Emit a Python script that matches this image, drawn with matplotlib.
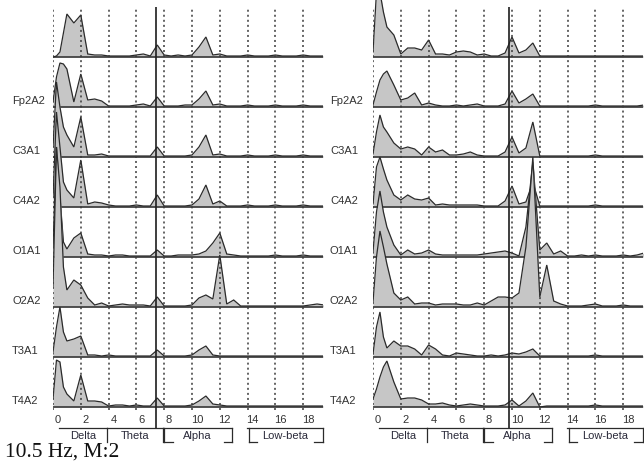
import matplotlib
matplotlib.use('Agg')
import matplotlib.pyplot as plt
import numpy as np

# ---------------- data ----------------
freqs = [0, 0.25, 0.5, 0.75, 1.0, 1.5, 2.0, 2.5, 3.0, 3.5, 4.0, 4.5, 5.0, 5.5,
         6.0, 6.5, 7.0, 7.5, 8.0, 8.5, 9.0, 9.5, 10.0, 10.5, 11.0, 11.5, 12.0,
         12.5, 13.0, 13.5, 14.0, 14.5, 15.0, 15.5, 16.0, 16.5, 17.0, 17.5, 18.0,
         18.5, 19.0, 19.5]

channels = ['', 'Fp2A2', 'C3A1', 'C4A2', 'O1A1', 'O2A2', 'T3A1', 'T4A2']

# left panel spectra (relative power)
left_top   = [0, 1, 5, 24, 43, 34, 42, 3, 2, 2, 1, 1, 1, 1, 2, 3, 1, 12, 2, 1, 2, 1, 2, 10, 20, 2, 3, 1, 1, 1, 2, 1, 1, 1, 2, 1, 1, 1, 2, 1, 1, 1]
left_fp2a2 = [5, 30, 44, 43, 38, 5, 33, 7, 8, 6, 1, 1, 1, 1, 2, 3, 1, 10, 1, 1, 1, 2, 2, 8, 16, 2, 3, 1, 1, 1, 2, 1, 1, 1, 2, 1, 1, 1, 2, 1, 1, 1]
left_c3a1  = [10, 75, 50, 30, 22, 10, 40, 2, 2, 3, 1, 1, 1, 1, 1, 1, 1, 10, 1, 1, 1, 1, 2, 10, 22, 2, 3, 1, 1, 1, 2, 1, 1, 1, 2, 1, 1, 1, 2, 1, 1, 1]
left_c4a2  = [10, 95, 60, 25, 17, 9, 47, 3, 5, 4, 2, 1, 1, 1, 2, 1, 1, 12, 1, 1, 1, 1, 2, 8, 22, 3, 6, 1, 1, 1, 2, 1, 1, 1, 2, 1, 1, 1, 2, 1, 1, 1]
left_o1a1  = [10, 110, 60, 15, 8, 19, 24, 3, 2, 2, 1, 2, 2, 1, 1, 1, 1, 7, 1, 1, 2, 2, 2, 3, 6, 14, 24, 3, 2, 1, 1, 1, 1, 1, 2, 1, 1, 1, 2, 1, 1, 1]
left_o2a2  = [20, 160, 120, 40, 17, 27, 22, 9, 2, 4, 1, 2, 3, 2, 2, 2, 1, 10, 1, 1, 1, 1, 2, 9, 12, 8, 52, 3, 7, 1, 1, 1, 1, 1, 1, 1, 1, 1, 1, 2, 3, 2]
left_t3a1  = [5, 30, 50, 25, 16, 18, 21, 2, 2, 1, 2, 1, 1, 1, 1, 1, 1, 7, 1, 1, 1, 1, 2, 7, 11, 2, 1, 1, 1, 1, 1, 1, 1, 1, 1, 1, 1, 1, 1, 1, 1, 1]
left_t4a2  = [8, 47, 45, 20, 13, 6, 32, 6, 6, 5, 1, 2, 2, 1, 2, 1, 1, 9, 1, 1, 1, 1, 2, 6, 11, 3, 2, 1, 1, 1, 1, 1, 1, 1, 1, 1, 1, 1, 1, 1, 1, 1]

# right panel spectra
right_top   = [5, 65, 65, 45, 30, 22, 3, 9, 9, 7, 17, 3, 3, 2, 5, 6, 5, 2, 3, 1, 1, 4, 20, 4, 7, 14, 1, 1, 1, 1, 1, 1, 1, 1, 1, 1, 1, 1, 1, 1, 1, 1]
right_fp2a2 = [2, 15, 27, 33, 36, 22, 7, 9, 14, 2, 4, 2, 1, 1, 2, 1, 2, 3, 1, 1, 1, 3, 16, 4, 8, 13, 1, 1, 1, 1, 1, 1, 1, 1, 2, 1, 1, 1, 1, 1, 1, 2]
right_c3a1  = [3, 25, 42, 30, 25, 14, 8, 10, 8, 2, 10, 5, 7, 2, 2, 3, 5, 2, 1, 1, 1, 5, 20, 4, 9, 35, 1, 1, 1, 1, 1, 1, 1, 1, 2, 1, 1, 1, 1, 1, 1, 1]
right_c4a2  = [3, 40, 50, 38, 27, 12, 7, 12, 8, 7, 9, 2, 3, 2, 2, 2, 2, 2, 1, 1, 1, 6, 21, 3, 5, 25, 1, 1, 1, 1, 1, 1, 1, 1, 2, 1, 1, 1, 1, 1, 1, 1]
right_o1a1  = [5, 45, 66, 45, 30, 12, 2, 7, 3, 4, 7, 3, 2, 2, 2, 2, 2, 2, 3, 4, 5, 6, 4, 1, 30, 95, 7, 14, 3, 6, 1, 1, 2, 1, 2, 1, 1, 1, 2, 1, 2, 4]
right_o2a2  = [5, 50, 76, 60, 43, 14, 7, 10, 3, 4, 4, 2, 3, 3, 3, 2, 2, 4, 2, 6, 10, 10, 9, 14, 60, 150, 10, 42, 6, 3, 1, 1, 1, 2, 3, 1, 1, 1, 2, 1, 1, 1]
right_t3a1  = [3, 30, 45, 20, 9, 16, 11, 11, 8, 2, 12, 8, 2, 1, 4, 3, 2, 1, 1, 2, 1, 2, 4, 3, 5, 8, 1, 1, 1, 1, 1, 1, 1, 1, 2, 1, 1, 1, 1, 1, 1, 1]
right_t4a2  = [8, 18, 30, 40, 46, 25, 8, 9, 9, 7, 3, 3, 4, 2, 1, 2, 3, 2, 1, 1, 1, 2, 7, 1, 6, 14, 0, 1, 1, 1, 1, 1, 1, 1, 2, 1, 1, 1, 1, 1, 1, 1]

left_spectra = [left_top, left_fp2a2, left_c3a1, left_c4a2, left_o1a1, left_o2a2, left_t3a1, left_t4a2]
right_spectra = [right_top, right_fp2a2, right_c3a1, right_c4a2, right_o1a1, right_o2a2, right_t3a1, right_t4a2]

grid_ticks = [0, 2, 4, 6, 8, 10, 12, 14, 16, 18]
cursor_left = 7.4
cursor_right = 9.8

band_names = ['Delta', 'Theta', 'Alpha', 'Low-beta']
band_lo = [0.4, 3.9, 7.9, 13.95]
band_hi = [3.9, 7.9, 12.9, 19.4]

caption = '10.5 Hz, M:2'

# ---------------- style / layout ----------------
W, H = 644, 466
PX_HZ = 13.9
XMAX = 19.4
ROW_PX = 50.0
TOP = 1.14          # data y at figure top (row 0 baseline at 57 px)
FILL = '#c6c6c6'
LINE = '#2b2b2b'
GRID = '#3a3a3a'
SANS = ['Liberation Sans', 'DejaVu Sans']

fig = plt.figure(figsize=(W / 100, H / 100), dpi=100)
fig.patch.set_facecolor('white')


def ypx(p):
    return TOP - p / ROW_PX


def make_axes(x0px):
    ax = fig.add_axes([x0px / W, 0, XMAX * PX_HZ / W, 1])
    ax.set_xlim(0, XMAX)
    ax.set_ylim(TOP - H / ROW_PX, TOP)
    ax.axis('off')
    return ax


def draw_panel(ax, spectra, cursor, label_x):
    f = np.array(freqs)
    for i, (name, vals) in enumerate(zip(channels, spectra)):
        off = -i
        y = off + np.array(vals, dtype=float) / ROW_PX
        z = 2 + 2 * i
        ax.fill_between(f, off, y, color=FILL, lw=0, zorder=z)
        ax.plot(f, y, color=LINE, lw=0.9, zorder=z + 1, solid_joinstyle='miter')
        ax.axhline(off, color=LINE, lw=1.1, zorder=z + 1)
        if name:
            ax.text(label_x, off + 6 / ROW_PX, name, ha='left', va='center',
                    fontsize=8, color='#333333', family=SANS, clip_on=False)
    ax.vlines(grid_ticks, ypx(410), ypx(8), colors=GRID,
              linestyles=[(0, (1.3, 2.0))], lw=1.1, zorder=40)
    ax.vlines([cursor], ypx(428), ypx(7), colors='#1e1e1e', lw=1.2, zorder=45)
    for t in grid_ticks:
        ax.text(t + 0.35, ypx(420), str(t), ha='center', va='center',
                fontsize=8, color='#333333', family=SANS, clip_on=False)
    # band brackets
    ytop, ybot = ypx(428), ypx(442)
    for k, (nm, lo, hi) in enumerate(zip(band_names, band_lo, band_hi)):
        kw = dict(color=LINE, lw=0.9, clip_on=False, zorder=46)
        ax.plot([lo, hi], [ytop, ytop], **kw)
        ax.plot([hi, hi], [ytop, ybot], **kw)
        if k >= 2:
            l2 = lo + 0.12
            ax.plot([l2, l2], [ytop, ybot], **kw)
            ax.plot([l2, l2 + 0.6], [ybot, ybot], **kw)
            ax.plot([hi - 0.6, hi], [ybot, ybot], **kw)
        ax.text((lo + hi) / 2, ypx(436), nm, ha='center', va='center',
                fontsize=8, color='#2a2a3a', family=SANS, clip_on=False)


ax_l = make_axes(53)
draw_panel(ax_l, left_spectra, cursor_left, (12 - 53) / PX_HZ)
ax_r = make_axes(373)
draw_panel(ax_r, right_spectra, cursor_right, (330 - 373) / PX_HZ)

fig.text(5 / W, 1 - 452 / H, caption, ha='left', va='center', fontsize=15.5,
         family=['Liberation Serif', 'DejaVu Serif'], color='#111111')

fig.savefig('out.png', dpi=100, facecolor='white')
